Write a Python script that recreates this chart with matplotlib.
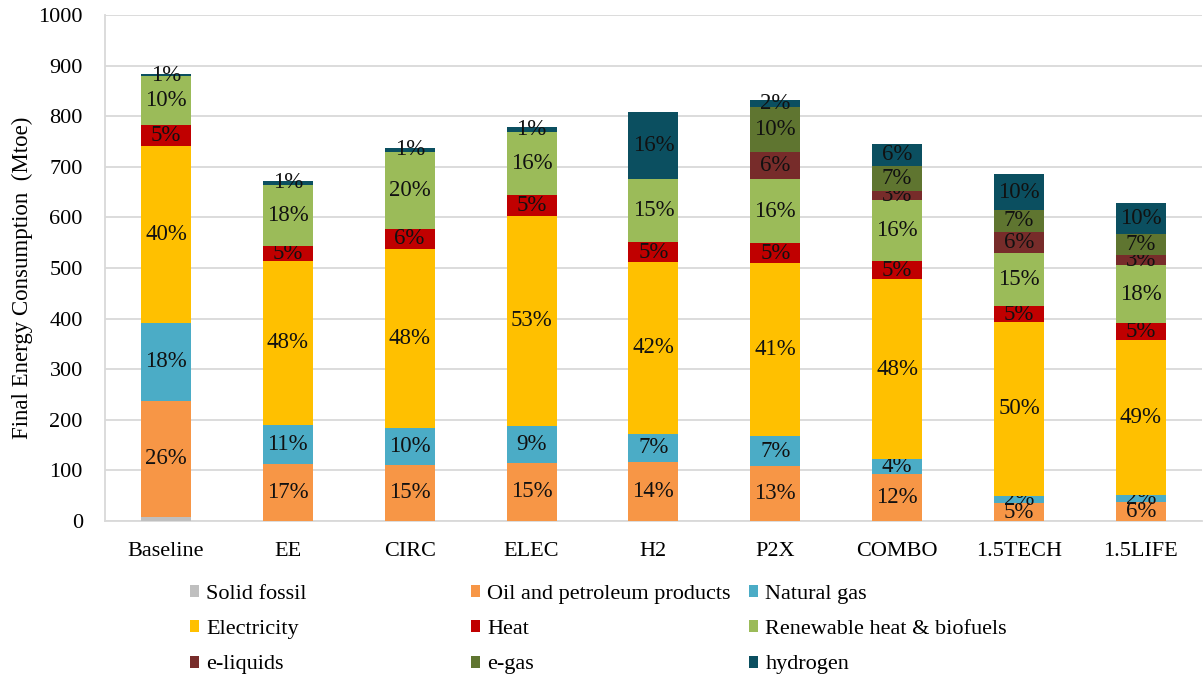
#stacked final energy consumption by scenario
import matplotlib.pyplot as plt
from matplotlib.patches import Patch

plt.rcParams['font.family'] = ['Liberation Serif', 'DejaVu Serif']

scenarios = ['Baseline', 'EE', 'CIRC', 'ELEC', 'H2', 'P2X', 'COMBO', '1.5TECH', '1.5LIFE']

# Mtoe
solid_fossil = [8.5, 0, 0, 0, 0, 0, 0, 0, 0]
oil = [229, 113, 111, 115, 117, 109, 93, 35, 38]
natural_gas = [154, 77, 73, 73, 55, 58, 29, 15, 13]
electricity = [350, 324, 354, 415, 340, 343, 356, 343, 307]
heat = [41, 29, 39, 41, 39, 39, 35, 32, 33]
renewable = [96, 121, 153, 125, 125, 127, 121, 104, 114]
e_liquids = [0, 0, 0, 0, 0, 54, 19, 42, 21]
e_gas = [0, 0, 0, 0, 0, 88, 49, 44, 41]
hydrogen = [4, 8, 8, 9, 133, 14, 43, 70, 62]

# data labels as printed on the chart
lab_solid = ['', '', '', '', '', '', '', '', '']
lab_oil = ['26%', '17%', '15%', '15%', '14%', '13%', '12%', '5%', '6%']
lab_gas = ['18%', '11%', '10%', '9%', '7%', '7%', '4%', '2%', '2%']
lab_elec = ['40%', '48%', '48%', '53%', '42%', '41%', '48%', '50%', '49%']
lab_heat = ['5%', '5%', '6%', '5%', '5%', '5%', '5%', '5%', '5%']
lab_ren = ['10%', '18%', '20%', '16%', '15%', '16%', '16%', '15%', '18%']
lab_eliq = ['', '', '', '', '', '6%', '3%', '6%', '3%']
lab_egas = ['', '', '', '', '', '10%', '7%', '7%', '7%']
lab_h2 = ['1%', '1%', '1%', '1%', '16%', '2%', '6%', '10%', '10%']

series = [
    ('Solid fossil', solid_fossil, lab_solid, '#BFBFBF'),
    ('Oil and petroleum products', oil, lab_oil, '#F79646'),
    ('Natural gas', natural_gas, lab_gas, '#4BACC6'),
    ('Electricity', electricity, lab_elec, '#FFC000'),
    ('Heat', heat, lab_heat, '#C00000'),
    ('Renewable heat & biofuels', renewable, lab_ren, '#9BBB59'),
    ('e-liquids', e_liquids, lab_eliq, '#772C2A'),
    ('e-gas', e_gas, lab_egas, '#5F7530'),
    ('hydrogen', hydrogen, lab_h2, '#0B4F60'),
]

fig = plt.figure(figsize=(12.03, 6.76), dpi=100)
ax = fig.add_axes([0.0873, 0.2293, 0.9117, 0.7485])

x = list(range(len(scenarios)))
bottom = [0.0] * len(scenarios)
for name, vals, labs, col in series:
    bars = ax.bar(x, vals, width=0.41, bottom=bottom, color=col, label=name,
                  linewidth=0, zorder=3)
    ax.bar_label(bars, labels=labs, label_type='center', fontsize=16.5, color='#111111')
    bottom = [b + v for b, v in zip(bottom, vals)]

ax.set_xlim(-0.5, len(scenarios) - 0.5)
ax.set_ylim(0, 1000)
ax.set_yticks(range(0, 1001, 100))
ax.set_xticks(x)
ax.set_xticklabels(scenarios)
ax.tick_params(axis='both', length=0, labelsize=16)
ax.tick_params(axis='x', pad=15)
ax.tick_params(axis='y', pad=16)
ax.yaxis.grid(True, color='#D9D9D9', linewidth=1.3, zorder=0)
ax.set_axisbelow(True)
for s in ['top', 'right']:
    ax.spines[s].set_visible(False)
for s in ['left', 'bottom']:
    ax.spines[s].set_color('#D9D9D9')
    ax.spines[s].set_linewidth(1.3)
ax.set_ylabel('Final Energy Consumption  (Mtoe)', fontsize=16.5)
ax.yaxis.set_label_coords(-0.066, 0.48)

# legend: three equal-width columns like excel
handles = [Patch(facecolor=col, label=name) for name, vals, labs, col in series]
cols_x = [190, 471, 749]
for c in range(3):
    fig.legend(handles=[handles[c], handles[c + 3], handles[c + 6]],
               loc='upper left', bbox_to_anchor=(cols_x[c] / 1203, 0.1346),
               frameon=False, fontsize=16, borderpad=0, borderaxespad=0,
               handlelength=0.42, handleheight=0.45, handletextpad=0.32,
               labelspacing=0.73)

fig.savefig('out.png', dpi=100)
